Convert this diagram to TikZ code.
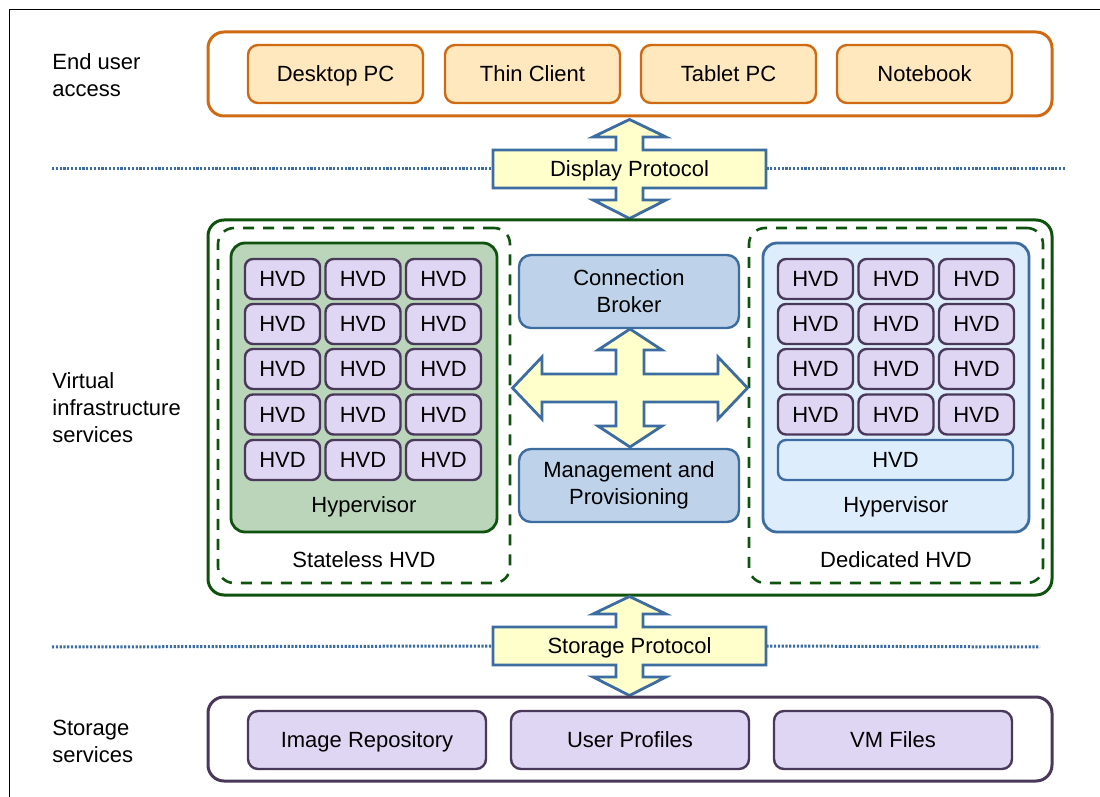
\documentclass[tikz,border=0pt]{standalone}
\usepackage{fontspec}
\setmainfont{Liberation Sans}
\definecolor{userline}{RGB}{208,106,18}
\definecolor{userfill}{RGB}{255,231,190}
\definecolor{infraline}{RGB}{14,82,14}
\definecolor{statefill}{RGB}{186,213,186}
\definecolor{hvdline}{RGB}{74,56,90}
\definecolor{hvdfill}{RGB}{222,214,242}
\definecolor{blueline}{RGB}{60,108,160}
\definecolor{dedfill}{RGB}{222,237,252}
\definecolor{mgmtfill}{RGB}{190,211,233}
\definecolor{arrowfill}{RGB}{255,255,204}
\begin{document}
\begin{tikzpicture}[x=.5pt,y=-.5pt,font=\fontsize{11}{13.5}\selectfont,
    caption/.style={inner sep=0pt,text height=7.9pt,text depth=0pt},
    rbox/.style={draw,rounded corners=4pt,line width=1.2pt,inner sep=0pt,align=center},
    box/.style={rbox,text height=7.9pt,text depth=0pt},
    group/.style={draw,rounded corners=8pt,line width=1.5pt,inner sep=0pt},
    userbox/.style={box,draw=userline,fill=userfill,minimum width=87.5pt,minimum height=29pt,rounded corners=5pt},
    hvd/.style={box,draw=hvdline,fill=hvdfill,minimum width=37.5pt,minimum height=20pt},
    storebox/.style={box,draw=hvdline,fill=hvdfill,minimum width=119pt,minimum height=29pt,rounded corners=5pt},
    centerbox/.style={rbox,draw=blueline,fill=mgmtfill,minimum width=110pt,minimum height=36.5pt,rounded corners=6pt},
    pool/.style={draw=infraline,dash pattern=on 5.5pt off 4.5pt,line width=1.3pt,rounded corners=8pt,minimum height=177.5pt},
    hyper/.style={draw,line width=1.4pt,rounded corners=7pt,inner sep=0pt,minimum width=133pt,minimum height=144.5pt},
    layer/.style={anchor=west,align=left,inner sep=0pt},
    blockarrow/.style={draw=blueline,fill=arrowfill,line width=1.4pt},
    sep/.style={draw=blueline,line width=1.5pt,dash pattern=on 1.1pt off .8pt}]
  \useasboundingbox (0,0) rectangle (1100,797);
  \draw[line width=.6pt] (9.5,797) -- (9.5,9.5) -- (1100,9.5);

  % layer titles
  \node[layer](t1) at (52,75) {End user\\access};
  \node[layer](t2) at (52,408) {Virtual\\infrastructure\\services};
  \node[layer](t3) at (52,741) {Storage\\services};

  % end user access
  \node[group,draw=userline,minimum width=422pt,minimum height=42pt](access) at (630,74) {};
  \node[userbox](desk) at (335.5,74) {Desktop PC};
  \node[userbox](thin) at (532.5,74) {Thin Client};
  \node[userbox](tablet) at (728.5,74) {Tablet PC};
  \node[userbox](note) at (924.5,74) {Notebook};

  % display protocol
  \begin{scope}[shift={(629.5,169)}]
    \draw[blockarrow] (0,-49.5) -- (36.5,-32) -- (13.5,-32) -- (13.5,-19) -- (136.5,-19) -- (136.5,19)
      -- (13.5,19) -- (13.5,31) -- (36.5,31) -- (0,49.5) -- (-36.5,31) -- (-13.5,31) -- (-13.5,19)
      -- (-136.5,19) -- (-136.5,-19) -- (-13.5,-19) -- (-13.5,-32) -- (-36.5,-32) -- cycle;
    \node[caption,minimum width=136.5pt,minimum height=19pt](display) at (0,0) {Display Protocol};
  \end{scope}
  \coordinate (s1l) at (52,169);
  \coordinate (s1r) at (1065,169);
  \draw[sep] (s1l) -- (display.west) (display.east) -- (s1r);

  % virtual infrastructure
  \node[group,draw=infraline,minimum width=422pt,minimum height=187.5pt](infra) at (630,407.5) {};
  \node[pool,minimum width=146pt](stateless) at (364,405.5) {};
  \node[pool,minimum width=147pt](dedicated) at (896,405.5) {};
  \node[hyper,draw=infraline,fill=statefill](hypl) at (364,387.5) {};
  \node[hyper,draw=blueline,fill=dedfill](hypr) at (896,387.5) {};
  \node[caption](hypltxt) at (364,505) {Hypervisor};
  \node[caption](hyprtxt) at (896,505) {Hypervisor};
  \node[caption](statetxt) at (364,560) {Stateless HVD};
  \node[caption](dedtxt) at (896,560) {Dedicated HVD};

  \node[hvd](l11) at (282.5,279) {HVD}; \node[hvd](l12) at (363,279) {HVD}; \node[hvd](l13) at (443.5,279) {HVD};
  \node[hvd](l21) at (282.5,324) {HVD}; \node[hvd](l22) at (363,324) {HVD}; \node[hvd](l23) at (443.5,324) {HVD};
  \node[hvd](l31) at (282.5,369) {HVD}; \node[hvd](l32) at (363,369) {HVD}; \node[hvd](l33) at (443.5,369) {HVD};
  \node[hvd](l41) at (282.5,414.5) {HVD}; \node[hvd](l42) at (363,414.5) {HVD}; \node[hvd](l43) at (443.5,414.5) {HVD};
  \node[hvd](l51) at (282.5,460) {HVD}; \node[hvd](l52) at (363,460) {HVD}; \node[hvd](l53) at (443.5,460) {HVD};

  \node[hvd](r11) at (815.5,279) {HVD}; \node[hvd](r12) at (896,279) {HVD}; \node[hvd](r13) at (976.5,279) {HVD};
  \node[hvd](r21) at (815.5,324) {HVD}; \node[hvd](r22) at (896,324) {HVD}; \node[hvd](r23) at (976.5,324) {HVD};
  \node[hvd](r31) at (815.5,369) {HVD}; \node[hvd](r32) at (896,369) {HVD}; \node[hvd](r33) at (976.5,369) {HVD};
  \node[hvd](r41) at (815.5,414.5) {HVD}; \node[hvd](r42) at (896,414.5) {HVD}; \node[hvd](r43) at (976.5,414.5) {HVD};
  \node[box,draw=blueline,fill=dedfill,minimum width=117.5pt,minimum height=20pt](rall) at (895.5,460) {HVD};

  \node[centerbox](broker) at (629,291.5) {Connection\\Broker};
  \node[centerbox](mgmt) at (629,485.5) {Management and\\Provisioning};
  \begin{scope}[shift={(630,388)}]
    \draw[blockarrow] (0,-59) -- (32,-38) -- (14,-38) -- (14,-14) -- (88,-14) -- (88,-31) -- (117.5,0)
      -- (88,31) -- (88,14) -- (14,14) -- (14,38) -- (32,38) -- (0,59) -- (-32,38) -- (-14,38)
      -- (-14,14) -- (-88,14) -- (-88,31) -- (-117.5,0) -- (-88,-31) -- (-88,-14) -- (-14,-14)
      -- (-14,-38) -- (-32,-38) -- cycle;
  \end{scope}

  % storage protocol
  \begin{scope}[shift={(629.5,646)}]
    \draw[blockarrow] (0,-49.5) -- (36.5,-32) -- (13.5,-32) -- (13.5,-19) -- (136.5,-19) -- (136.5,19)
      -- (13.5,19) -- (13.5,31) -- (36.5,31) -- (0,49.5) -- (-36.5,31) -- (-13.5,31) -- (-13.5,19)
      -- (-136.5,19) -- (-136.5,-19) -- (-13.5,-19) -- (-13.5,-32) -- (-36.5,-32) -- cycle;
    \node[caption,minimum width=136.5pt,minimum height=19pt](storproto) at (0,0) {Storage Protocol};
  \end{scope}
  \coordinate (s2l) at (52,647);
  \coordinate (s2r) at (1040,647);
  \draw[sep] (s2l) -- (storproto.west) (storproto.east) -- (s2r);

  % storage services
  \node[group,draw=hvdline,minimum width=422pt,minimum height=42pt](storage) at (630,739) {};
  \node[storebox](images) at (367,740) {Image Repository};
  \node[storebox](profiles) at (630,740) {User Profiles};
  \node[storebox](vmfiles) at (893,740) {VM Files};
\end{tikzpicture}
\end{document}
